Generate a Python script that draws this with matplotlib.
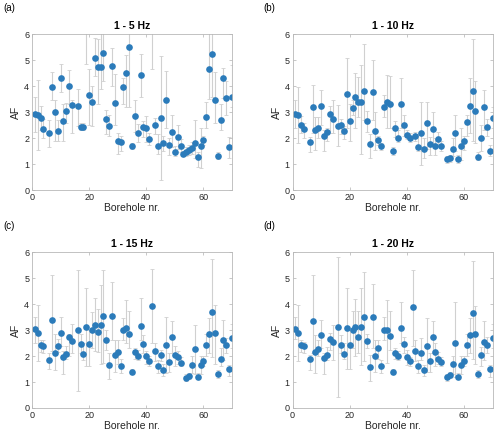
import numpy as np
import matplotlib
matplotlib.use("Agg")
import matplotlib.pyplot as plt

plt.rcParams['font.family'] = ['Liberation Sans', 'DejaVu Sans']

nan = np.nan

# borehole numbers (5 and 15 have no data)
borehole = [1, 2, 3, 4, 6, 7, 8, 9, 10, 11, 12, 13, 14] + list(range(16, 71))

# 1 - 5 Hz
af_5 = [2.93, 2.90, 2.79, 2.36, 2.18, 3.95, 3.00, 2.27, 4.31, 2.64, 3.06, 4.00, 3.27,
        3.22, 2.44, 2.41, 6.6, 3.64, 3.40, 5.08, 4.72, 4.73, 5.27, 2.73, 2.47, 4.78, 3.36,
        1.88, 1.85, 3.96, 4.50, 5.52, 1.69, 2.86, 2.20, 4.44, 2.44, 2.40, 1.96, 7.0, 2.49,
        1.71, 2.76, 1.82, 3.46, 1.73, 2.23, 1.47, 2.03, 1.71, 1.37, 1.47, 1.55, 1.63, 1.81,
        1.28, 1.71, 1.92, 2.82, 4.67, 5.23, 3.47, 1.30, 2.71, 4.33, 3.54, 1.67, 3.57]
lo_5 = [2.25, 1.55, 2.30, 2.00, 1.65, 3.47, 1.87, 1.90, 3.79, 1.90, 2.60, 3.30, 2.20,
        2.45, 2.30, 2.30, 4.87, 2.50, 2.45, 4.40, 3.30, 3.90, 4.20, 2.15, 2.10, 4.00, 2.50,
        1.40, 1.50, 3.30, 3.20, 3.20, 1.60, 2.25, 1.85, 3.60, 2.05, 1.85, 1.75, 4.65, 2.15,
        1.40, 0.40, 1.50, 2.38, 1.35, 1.65, 1.30, 1.60, 1.45, 1.30, 1.30, 1.35, 1.40, 1.25,
        0.90, 0.85, 1.75, 2.40, 3.50, 3.60, 2.60, 1.20, 2.30, 3.55, 2.90, 1.25, 3.20]
hi_5 = [3.60, 4.22, 3.22, 2.75, 2.70, 4.56, 3.47, 2.70, 4.85, 3.30, 3.35, 4.62, 3.45,
        3.90, 2.60, 2.60, 8.0, 4.65, 4.00, 5.85, 5.80, 6.10, 6.20, 3.10, 2.90, 5.45, 4.48,
        2.20, 2.10, 4.30, 5.20, 6.10, 1.80, 3.45, 2.55, 5.25, 2.65, 2.85, 2.20, 8.0, 2.77,
        2.15, 5.15, 2.10, 4.59, 2.00, 2.90, 1.70, 2.50, 1.95, 1.50, 1.65, 1.75, 1.85, 2.70,
        1.45, 2.40, 2.10, 3.40, 6.20, 6.20, 4.55, 1.45, 3.30, 4.70, 4.20, 2.05, 4.80]

# 1 - 10 Hz
af_10 = [2.92, 2.88, 2.50, 2.35, 1.86, 3.20, 2.30, 2.38, 3.23, 2.08, 2.22, 2.92, 2.72,
         2.46, 2.49, 2.26, 3.69, 2.64, 3.17, 3.58, 3.38, 3.38, 3.80, 2.67, 1.76, 3.76, 2.26,
         1.94, 1.68, 3.20, 3.40, 3.31, 1.51, 2.38, 2.02, 3.33, 2.50, 2.13, 2.00, nan, 2.08,
         1.65, 2.18, 1.57, 2.57, 1.77, 2.35, 1.70, 1.98, 1.71, nan, 1.20, 1.22, 1.60, 2.20,
         1.20, 1.68, 1.90, 2.62, 3.23, 3.80, 3.04, 1.28, 2.00, 3.20, 2.43, 1.52, 2.78]
lo_10 = [2.40, 1.80, 2.20, 2.00, 1.45, 2.20, 1.55, 2.00, 2.50, 1.50, 1.90, 2.20, 2.20,
         1.70, 2.15, 1.95, 2.40, 1.90, 2.90, 2.40, 2.80, 1.40, 2.70, 2.25, 1.25, 2.70, 1.55,
         1.75, 1.55, 2.80, 2.40, 2.40, 1.35, 2.05, 1.85, 2.38, 2.10, 1.95, 1.85, nan, 1.90,
         1.50, 0.97, 1.25, 1.60, 1.35, 1.80, 1.35, 1.70, 1.50, nan, 1.05, 1.10, 1.30, 1.50,
         1.05, 1.17, 1.55, 2.10, 2.20, 1.90, 1.80, 1.15, 1.50, 2.30, 2.10, 1.30, 2.40]
hi_10 = [3.47, 3.98, 2.85, 2.60, 2.05, 4.05, 2.83, 2.80, 3.85, 2.30, 2.40, 3.25, 3.45,
         3.27, 2.75, 2.45, 5.10, 3.30, 3.45, 4.50, 4.35, 4.80, 5.62, 3.05, 2.15, 5.00, 3.00,
         2.10, 1.80, 3.65, 4.43, 4.40, 1.65, 2.65, 2.30, 4.33, 2.90, 2.30, 2.20, nan, 2.25,
         2.15, 3.38, 2.00, 3.40, 2.05, 3.00, 2.00, 2.25, 1.90, nan, 1.30, 1.35, 2.00, 2.90,
         1.35, 2.38, 2.10, 2.90, 4.30, 5.80, 4.20, 1.45, 2.50, 3.85, 2.75, 1.75, 3.20]

# 1 - 15 Hz
af_15 = [3.04, 2.88, 2.44, 2.38, 1.83, 3.40, 2.13, 2.38, 2.87, 1.95, 2.08, 2.72, 2.56,
         3.00, 2.46, 2.09, 3.10, 2.46, 3.01, 3.20, 2.91, 3.20, 3.53, 2.62, 1.67, 3.55, 2.03,
         2.14, 1.63, 3.01, 3.08, 2.85, 1.40, 2.14, 2.00, 3.17, 2.47, 1.99, 1.82, 3.91, 2.18,
         1.63, 2.03, 1.45, 2.44, 1.77, 2.73, 2.05, 1.96, 1.74, nan, 1.15, 1.23, 1.67, 2.26,
         1.20, 1.65, 1.82, 2.44, 2.85, 3.70, 2.88, 1.30, 1.90, 2.63, 2.44, 1.51, 2.69]
lo_15 = [2.50, 1.80, 2.15, 2.10, 1.50, 2.20, 1.45, 2.15, 2.40, 1.30, 1.87, 2.00, 2.10,
         0.67, 2.10, 1.85, 1.60, 1.60, 2.30, 2.20, 2.15, 1.68, 1.75, 2.25, 1.10, 2.60, 1.40,
         1.70, 1.35, 2.60, 2.50, 2.30, 1.30, 1.90, 1.85, 2.60, 2.10, 1.70, 1.60, 2.50, 1.80,
         1.35, 1.80, 1.25, 1.35, 1.40, 2.10, 1.60, 1.70, 1.60, nan, 1.05, 1.10, 1.35, 1.30,
         1.10, 1.30, 1.60, 2.00, 2.10, 1.95, 1.70, 1.15, 1.60, 1.85, 2.10, 1.25, 2.30]
hi_15 = [3.50, 3.95, 2.60, 2.60, 2.10, 5.13, 2.83, 2.65, 3.50, 2.20, 2.38, 2.83, 3.25,
         5.30, 2.85, 2.50, 4.60, 3.00, 3.70, 4.25, 3.80, 4.72, 5.30, 3.00, 2.10, 4.85, 2.60,
         2.60, 1.90, 3.45, 4.15, 3.75, 1.50, 2.30, 2.25, 4.24, 2.80, 2.20, 2.00, 5.35, 2.50,
         1.85, 2.25, 1.70, 3.50, 2.10, 3.33, 2.40, 2.20, 1.95, nan, 1.30, 1.35, 2.00, 3.20,
         1.35, 2.00, 2.00, 2.85, 3.45, 5.73, 3.95, 1.45, 2.30, 3.40, 2.70, 1.65, 3.25]

# 1 - 20 Hz
af_20 = [3.05, 2.87, 2.42, 2.38, 1.87, 3.33, 2.14, 2.28, 2.82, 1.94, 2.05, 2.65, 2.54,
         3.13, 2.42, 2.08, 3.06, 2.42, 3.00, 3.10, 2.72, 3.13, 3.49, 2.59, 1.59, 3.50, 2.01,
         2.31, 1.60, 3.00, 3.01, 2.77, 1.40, 2.12, 2.00, 3.06, 2.46, 1.96, 1.79, 3.87, 2.20,
         1.61, 2.13, 1.45, 2.38, 1.79, 2.73, 2.14, 1.90, 1.77, nan, 1.18, 1.26, 1.70, 2.49,
         1.20, 1.67, 1.80, 2.42, 2.81, 3.64, 2.85, 1.32, 2.03, 2.53, 2.42, 1.50, 2.69]
lo_20 = [2.65, 1.81, 2.15, 2.10, 1.45, 2.10, 1.35, 2.00, 2.30, 1.30, 1.85, 2.25, 1.85,
         0.43, 2.10, 1.90, 1.50, 1.50, 2.30, 2.00, 2.10, 1.65, 1.80, 2.30, 1.05, 2.30, 1.40,
         1.90, 1.35, 2.60, 1.75, 2.25, 1.30, 1.90, 1.85, 2.50, 2.10, 1.65, 1.60, 2.40, 1.80,
         1.35, 1.85, 1.25, 1.40, 1.40, 2.10, 1.60, 1.70, 1.60, nan, 1.05, 1.15, 1.30, 1.20,
         1.10, 1.30, 1.60, 2.00, 2.10, 1.90, 1.70, 1.15, 1.60, 1.85, 2.10, 1.20, 2.30]
hi_20 = [3.50, 3.95, 2.60, 2.55, 2.05, 5.10, 2.80, 2.60, 3.40, 2.10, 2.35, 2.90, 3.20,
         5.80, 2.80, 2.50, 4.60, 3.00, 3.75, 4.20, 3.75, 4.60, 5.25, 2.85, 2.05, 4.78, 2.60,
         2.60, 1.85, 3.50, 4.15, 3.75, 1.50, 2.30, 2.20, 4.08, 2.75, 2.25, 1.95, 5.30, 2.60,
         1.85, 2.70, 1.65, 3.45, 2.10, 3.35, 2.50, 2.15, 1.95, nan, 1.30, 1.40, 2.00, 4.07,
         1.35, 2.00, 2.00, 2.85, 3.45, 5.65, 3.93, 1.45, 2.35, 3.35, 2.75, 1.65, 3.25]

panels = [('(a)', '1 - 5 Hz', af_5, lo_5, hi_5),
          ('(b)', '1 - 10 Hz', af_10, lo_10, hi_10),
          ('(c)', '1 - 15 Hz', af_15, lo_15, hi_15),
          ('(d)', '1 - 20 Hz', af_20, lo_20, hi_20)]

# axes boxes in figure fractions: left, bottom, width, height
boxes = [[0.064, 0.566, 0.40, 0.356],
         [0.585, 0.566, 0.40, 0.356],
         [0.064, 0.0685, 0.40, 0.356],
         [0.585, 0.0685, 0.40, 0.356]]

fig = plt.figure(figsize=(5.0, 4.38), dpi=100)
blue = '#2b7bba'
grey_txt = '#262626'

for (letter, title, af, lo, hi), box in zip(panels, boxes):
    ax = fig.add_axes(box)
    x = np.array(borehole, dtype=float)
    y = np.array(af, dtype=float)
    err_lo = np.clip(y - np.array(lo, dtype=float), 0, None)
    err_hi = np.clip(np.array(hi, dtype=float) - y, 0, None)
    ax.errorbar(x, y, yerr=[err_lo, err_hi], fmt='none', ecolor='#d0d0d0',
                elinewidth=0.8, capsize=1.3, capthick=0.6, zorder=1)
    ax.plot(x, y, 'o', color=blue, markersize=4.8, markeredgewidth=0, zorder=2)
    ax.set_xlim(0, 70)
    ax.set_ylim(0, 6)
    ax.set_xticks([0, 20, 40, 60])
    ax.set_yticks(range(0, 7))
    ax.tick_params(direction='in', length=2.5, width=0.5, labelsize=6.5,
                   colors='#b0b0b0', labelcolor=grey_txt, top=True, right=True, pad=2)
    for s in ax.spines.values():
        s.set_color('#b8b8b8')
        s.set_linewidth(0.6)
    ax.set_xlabel('Borehole nr.', fontsize=7.5, color=grey_txt, labelpad=1)
    ax.set_ylabel('AF', fontsize=7.5, color=grey_txt, labelpad=2)
    ax.set_title(title, fontsize=7.5, fontweight='bold', color='black', pad=4)
    fig.text(box[0] - 0.058, box[1] + box[3] + 0.052, letter, fontsize=7, color='black')

fig.savefig('out.png', dpi=100)
